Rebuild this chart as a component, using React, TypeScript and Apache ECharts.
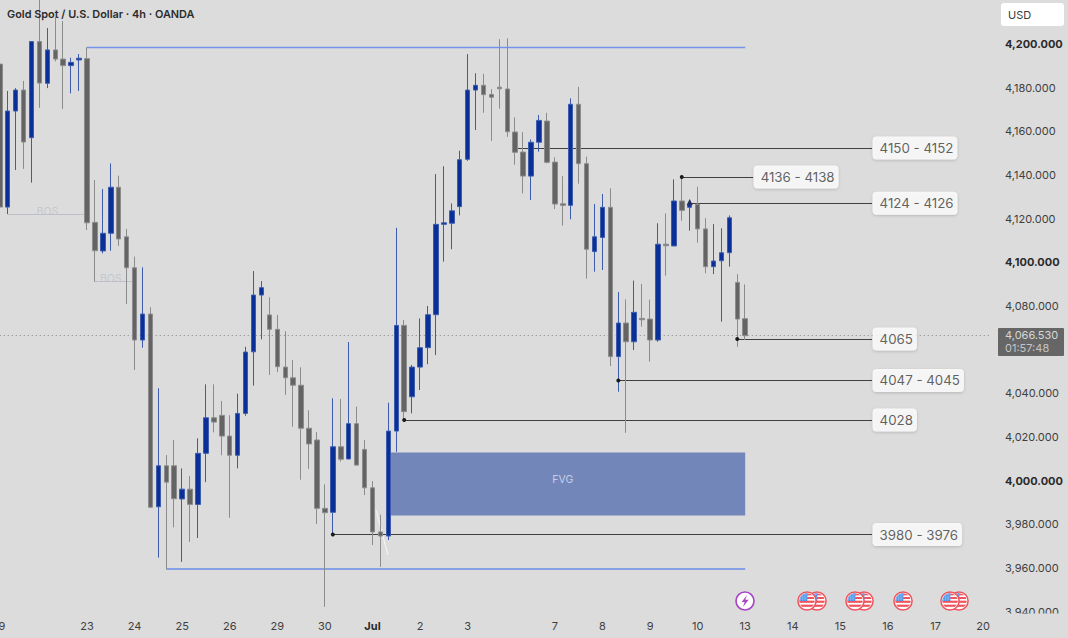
import React, { useEffect, useRef } from "react";
import * as echarts from "echarts";

const BG = "#dcdcdc";
const FONT = "Inter, Roboto, sans-serif";

// Category slots: one per 4h bar, labelled on the first bar of a day
const tickSlots = [0, 11, 17, 23, 29, 35, 41, 47, 53, 59, 70, 76, 82, 88, 94, 100, 106, 112, 118, 124];
const tickNames = ["19", "23", "24", "25", "26", "29", "30", "Jul", "2", "3", "7", "8", "9", "10", "13", "14", "15", "16", "17", "20"];
const slotCount = 126;

const yTicks = [3940, 3960, 3980, 4000, 4020, 4040, 4080, 4100, 4120, 4140, 4160, 4180, 4200];
const yBold = [4000, 4100, 4200];

// open, close, low, high
const bars = [
  [4190.8, 4125.3, 4124.0, 4191.8],
  [4125.3, 4169.3, 4122.1, 4178.5],
  [4169.3, 4178.9, 4142.3, 4179.8],
  [4178.9, 4155.1, 4142.8, 4183.1],
  [4157.1, 4201.1, 4136.5, 4201.1],
  [4201.1, 4182.1, 4170.8, 4225.0],
  [4182.0, 4197.3, 4179.8, 4207.3],
  [4197.3, 4193.1, 4192.0, 4212.4],
  [4193.1, 4190.1, 4170.2, 4210.5],
  [4190.1, 4191.6, 4177.4, 4193.7],
  [4192.7, 4193.5, 4178.5, 4195.4],
  [4193.3, 4118.1, 4114.8, 4198.5],
  [4118.3, 4105.3, 4091.1, 4137.7],
  [4105.2, 4113.3, 4104.1, 4133.6],
  [4113.3, 4134.4, 4105.3, 4145.3],
  [4134.4, 4110.7, 4107.5, 4139.7],
  [4111.7, 4097.5, 4080.9, 4115.3],
  [4097.5, 4064.4, 4050.7, 4102.6],
  [4064.4, 4076.3, 4060.9, 4097.7],
  [4076.3, 3987.8, 3987.5, 4079.4],
  [3988.0, 4006.8, 3964.7, 4042.3],
  [4006.8, 3999.3, 3959.4, 4011.7],
  [4006.8, 3991.7, 3978.6, 4018.6],
  [3991.6, 3996.1, 3962.8, 4005.6],
  [3996.1, 3989.1, 3971.9, 4002.1],
  [3989.1, 4012.5, 3973.7, 4019.4],
  [4012.5, 4028.8, 3999.3, 4044.1],
  [4028.8, 4026.8, 4022.1, 4044.1],
  [4029.9, 4020.4, 4011.6, 4036.5],
  [4020.4, 4011.6, 3983.0, 4029.9],
  [4011.6, 4030.8, 4005.6, 4039.8],
  [4030.8, 4058.9, 4029.7, 4061.3],
  [4059.0, 4085.0, 4043.5, 4096.0],
  [4085.0, 4088.4, 4064.7, 4091.4],
  [4075.9, 4069.3, 4048.4, 4084.0],
  [4069.3, 4052.2, 4049.7, 4075.9],
  [4052.0, 4047.1, 4039.3, 4068.5],
  [4047.1, 4043.7, 4024.7, 4055.2],
  [4043.7, 4024.0, 4000.4, 4051.9],
  [4024.0, 4016.8, 4005.4, 4032.2],
  [4018.6, 3987.3, 3980.1, 4022.3],
  [3987.3, 3985.3, 3942.2, 3998.3],
  [3985.5, 4015.5, 3975.4, 4037.7],
  [4015.5, 4009.8, 4008.7, 4037.4],
  [4009.9, 4026.1, 4009.9, 4063.5],
  [4026.1, 4007.1, 4006.8, 4033.9],
  [4014.3, 3996.7, 3993.4, 4018.6],
  [3996.7, 3976.5, 3970.5, 3999.8],
  [3976.5, 3974.6, 3960.5, 3984.4],
  [3974.6, 4022.7, 3972.8, 4035.7],
  [4022.7, 4071.1, 4013.2, 4115.8],
  [4071.1, 4031.6, 4028.2, 4073.6],
  [4038.4, 4052.0, 4030.8, 4053.0],
  [4052.0, 4060.9, 4041.5, 4074.3],
  [4060.9, 4076.0, 4053.3, 4080.0],
  [4076.0, 4117.4, 4057.5, 4140.4],
  [4117.4, 4118.1, 4100.3, 4144.0],
  [4117.9, 4123.6, 4106.0, 4127.0],
  [4125.5, 4147.0, 4121.5, 4151.1],
  [4147.2, 4178.9, 4146.5, 4195.4],
  [4178.9, 4181.1, 4160.6, 4186.6],
  [4181.1, 4176.8, 4168.5, 4186.3],
  [4176.9, 4175.6, 4155.6, 4179.3],
  [4180.2, 4179.5, 4170.4, 4202.2],
  [4179.4, 4159.8, 4157.5, 4202.6],
  [4159.7, 4150.4, 4144.7, 4166.4],
  [4150.5, 4139.5, 4131.6, 4159.6],
  [4139.5, 4155.0, 4128.5, 4156.3],
  [4155.0, 4165.0, 4150.7, 4167.5],
  [4164.7, 4145.8, 4145.3, 4168.5],
  [4145.9, 4126.7, 4124.4, 4148.1],
  [4126.8, 4126.1, 4116.8, 4139.5],
  [4126.1, 4172.4, 4119.7, 4175.1],
  [4172.4, 4145.2, 4136.0, 4180.4],
  [4145.2, 4106.0, 4092.5, 4148.4],
  [4104.9, 4111.7, 4095.7, 4126.7],
  [4111.4, 4125.2, 4096.5, 4131.3],
  [4125.2, 4056.8, 4052.5, 4133.9],
  [4056.8, 4072.2, 4040.7, 4086.4],
  [4072.2, 4063.6, 4021.9, 4083.0],
  [4063.6, 4077.1, 4059.8, 4091.6],
  [4074.3, 4073.7, 4070.5, 4090.1],
  [4074.0, 4064.4, 4054.5, 4082.9],
  [4064.4, 4108.3, 4063.6, 4117.9],
  [4108.3, 4107.6, 4093.9, 4122.4],
  [4107.5, 4128.1, 4107.5, 4138.0],
  [4128.1, 4123.8, 4119.1, 4139.0],
  [4125.2, 4126.4, 4114.5, 4128.5],
  [4126.6, 4115.3, 4109.0, 4134.6],
  [4115.3, 4098.0, 4095.0, 4120.2],
  [4098.0, 4100.6, 4094.6, 4117.5],
  [4100.7, 4104.4, 4072.8, 4115.6],
  [4104.4, 4120.4, 4098.0, 4121.5],
  [4090.8, 4074.0, 4061.3, 4094.6],
  [4074.2, 4066.4, 4064.4, 4089.9],
];

// from slot, to slot, price, chip text
const levels: [number, number, number, string][] = [
  [65, 110, 4152.4, "4150 - 4152"],
  [86, 95, 4139.1, "4136 - 4138"],
  [87, 110, 4127.0, "4124 - 4126"],
  [93, 110, 4064.9, "4065"],
  [78, 110, 4045.9, "4047 - 4045"],
  [51, 110, 4027.8, "4028"],
  [42, 110, 3975.3, "3980 - 3976"],
];
const dotLevels = ["4136 - 4138", "4065", "4047 - 4045", "4028", "3980 - 3976"];
const triangleLevels = ["4124 - 4126"];
const dotted = 4066.53;
const topLiquidity: [number, number, number] = [11, 94, 4198.5];
const bottomLiquidity: [number, number, number] = [21, 94, 3959.4];
const bosLines: [number, number, number][] = [
  [1, 11, 4122.1],
  [12, 17, 4091.1],
];
const bosLabels: [number, number][] = [
  [6, 4123.5],
  [14, 4092.8],
];
const fvg = { from: 49, to: 94, high: 4012.9, low: 3984.0 };
const fvgLabel: [number, number] = [71, 4000.5];

const svgUri = (s: string) => "data:image/svg+xml;utf8," + encodeURIComponent(s);
const flag = svgUri(
  `<svg xmlns="http://www.w3.org/2000/svg" width="60" height="60" viewBox="0 0 60 60"><defs><clipPath id="c"><circle cx="30" cy="30" r="23"/></clipPath></defs>` +
    `<circle cx="30" cy="30" r="29.5" fill="#f0535c"/><circle cx="30" cy="30" r="25" fill="#fff"/>` +
    `<g clip-path="url(#c)"><rect x="0" y="29" width="60" height="6.5" fill="#f0535c"/><rect x="0" y="41" width="60" height="6.5" fill="#f0535c"/><rect x="0" y="7" width="60" height="6" fill="#f0535c"/><rect x="0" y="18" width="60" height="6" fill="#f0535c"/>` +
    `<rect x="4" y="4" width="27" height="26" fill="#3f8fe8"/><path d="M10 4V30M17 4V30M24 4V30M4 11H31M4 18H31M4 24H31" stroke="#a9cdf5" stroke-width="1.6"/></g></svg>`
);
const bolt = svgUri(
  `<svg xmlns="http://www.w3.org/2000/svg" width="60" height="60" viewBox="0 0 60 60">` +
    `<circle cx="30" cy="30" r="27" fill="#fff" stroke="#a946c4" stroke-width="5"/>` +
    `<path d="M36 12 L20 33 H29 L24 48 L41 26 H31 Z" fill="#a946c4"/></svg>`
);

const flagPositions: [number, number][] = [
  [817, 601], [807, 601], [864, 601], [855, 601], [903, 601], [959, 601], [950, 601],
];

const fmtPrice = (v: number) => v.toLocaleString("en-US", { minimumFractionDigits: 3, maximumFractionDigits: 3 });

export default function App() {
  const ref = useRef<HTMLDivElement>(null);
  useEffect(() => {
    document.body.style.margin = "0";
    document.body.style.background = BG;
    const chart = echarts.init(ref.current!, undefined, { renderer: "svg" });
    const categories = Array.from({ length: slotCount }, (_, i) => {
      const at = tickSlots.indexOf(i);
      return at >= 0 ? tickNames[at] : "";
    });
    const hLine = (s: [number, number, number], color: string, width: number) => [
      { coord: [s[0], s[2]], lineStyle: { color, width, type: "solid" } },
      { coord: [s[1], s[2]] },
    ];
    const chips = levels.map((l) => ({ value: [l[1], l[2]], name: l[3] }));
    const dots = levels.filter((l) => dotLevels.includes(l[3])).map((l) => [l[0], l[2]]);
    const triangles = levels.filter((l) => triangleLevels.includes(l[3])).map((l) => [l[0], l[2] + 0.6]);
    const option: any = {
      animation: false,
      backgroundColor: BG,
      grid: { left: -4.2, width: 999.2, top: 0, height: 613.5, outerBoundsMode: "none", containLabel: false },
      xAxis: {
        type: "category",
        data: categories,
        boundaryGap: true,
        axisLine: { show: false },
        axisTick: { show: false },
        splitLine: { show: false },
        axisLabel: {
          interval: (_i: number, v: string) => v !== "",
          margin: 7,
          color: "#3f3f3f",
          fontFamily: FONT,
          fontSize: 11,
          hideOverlap: false,
          formatter: (v: string) => (v === "Jul" ? "{b|Jul}" : v),
          rich: { b: { fontWeight: 700, color: "#2a2a2a", fontSize: 11, fontFamily: FONT } },
        },
      },
      yAxis: {
        type: "value",
        position: "right",
        min: 3939.13,
        max: 4220.16,
        scale: true,
        axisLine: { show: false },
        axisTick: { show: false },
        splitLine: { show: false },
        axisLabel: {
          customValues: yTicks,
          margin: 10,
          color: "#3f3f3f",
          fontFamily: FONT,
          fontSize: 11,
          formatter: (v: number) => (yBold.includes(v) ? `{b|${fmtPrice(v)}}` : fmtPrice(v)),
          rich: { b: { fontWeight: 700, color: "#2a2a2a", fontSize: 11, fontFamily: FONT } },
        },
      },
      series: [
        {
          type: "line",
          z: 1,
          data: [],
          silent: true,
          markLine: {
            z: 1,
            silent: true,
            symbol: "none",
            label: { show: false },
            animation: false,
            data: [
              [
                { coord: [0, dotted], lineStyle: { color: "#8a8a8a", width: 1, type: [1, 3] } },
                { coord: [slotCount - 1, dotted] },
              ],
              ...levels.map((l) => hLine([l[0], l[1], l[2]], "#3f3f3f", 1)),
              hLine(topLiquidity, "#7393ea", 1.3),
              hLine(bottomLiquidity, "#86a0e6", 2),
              ...bosLines.map((b) => hLine(b, "#bcbfc7", 1)),
            ],
          },
        },
        {
          type: "candlestick",
          z: 2,
          data: bars,
          barWidth: 5,
          itemStyle: {
            color: "#0a2f96",
            borderColor: "#3d5cae",
            color0: "#646464",
            borderColor0: "#8c8c8c",
            borderWidth: 1,
          },
          markArea: {
            z: 1,
            silent: true,
            itemStyle: { color: "#7286ba" },
            data: [[{ coord: [fvg.from, fvg.high] }, { coord: [fvg.to, fvg.low] }]],
          },
        },
        {
          type: "scatter",
          z: 3,
          symbol: "circle",
          symbolSize: 4,
          itemStyle: { color: "#1a1a1a", opacity: 1 },
          data: dots,
          silent: true,
        },
        {
          type: "scatter",
          z: 3,
          symbol: "triangle",
          symbolSize: 6,
          itemStyle: { color: "#1f2f5f", opacity: 1 },
          data: triangles,
          silent: true,
        },
        {
          type: "scatter",
          z: 6,
          symbolSize: 1,
          itemStyle: { color: "transparent" },
          silent: true,
          data: chips,
          label: {
            show: true,
            position: "right",
            distance: 0,
            formatter: (p: any) => p.name,
            color: "#3a3a3a",
            fontFamily: FONT,
            fontSize: 13.3,
            backgroundColor: "#ffffff",
            borderRadius: 4,
            padding: [5, 4, 5, 7],
            shadowColor: "rgba(0,0,0,0.22)",
            shadowBlur: 3,
            shadowOffsetY: 1,
          },
        },
        {
          type: "scatter",
          z: 3,
          symbolSize: 1,
          itemStyle: { color: "transparent" },
          silent: true,
          data: bosLabels,
          label: {
            show: true,
            position: "inside",
            formatter: "BOS",
            color: "#bfc2ca",
            fontFamily: FONT,
            fontSize: 10.5,
          },
        },
        {
          type: "scatter",
          z: 3,
          symbolSize: 1,
          itemStyle: { color: "transparent" },
          silent: true,
          data: [fvgLabel],
          label: {
            show: true,
            position: "inside",
            formatter: "FVG",
            color: "#dde3f3",
            fontFamily: FONT,
            fontSize: 10.5,
          },
        },
      ],
      graphic: [
        { type: "rect", z: 100, shape: { x: 995, y: 613.5, width: 73, height: 25 }, style: { fill: BG } },
        { type: "line", z: 1, shape: { x1: 376, y1: 510, x2: 388, y2: 555 }, style: { stroke: "#f2f2f2", lineWidth: 1.2 } },
        {
          type: "text",
          z: 100,
          x: 7,
          y: 8,
          style: { text: "Gold Spot / U.S. Dollar · 4h · OANDA", fill: "#2b2b2b", font: `600 10.9px ${FONT}` },
        },
        { type: "rect", z: 100, shape: { x: 1001, y: 3, width: 63, height: 23, r: 3 }, style: { fill: "#ffffff" } },
        {
          type: "text",
          z: 101,
          x: 1008,
          y: 9,
          style: { text: "USD", fill: "#3a3a3a", font: `400 11px ${FONT}` },
        },
        { type: "rect", z: 100, shape: { x: 998, y: 328, width: 66, height: 28, r: 1 }, style: { fill: "#666666" } },
        {
          type: "text",
          z: 101,
          x: 1005,
          y: 335,
          style: { text: fmtPrice(dotted), fill: "#d6d6d6", font: `400 11px ${FONT}`, verticalAlign: "middle" },
        },
        {
          type: "text",
          z: 101,
          x: 1005,
          y: 347.5,
          style: { text: "01:57:48", fill: "#c4c4c4", font: `400 11px ${FONT}`, verticalAlign: "middle" },
        },
        { type: "image", z: 50, style: { image: bolt, x: 735, y: 591, width: 20, height: 20 } },
        ...flagPositions.map((p) => ({
          type: "image",
          z: 50,
          style: { image: flag, x: p[0] - 10, y: p[1] - 10, width: 20, height: 20 },
        })),
      ],
    };
    chart.setOption(option);
    return () => chart.dispose();
  }, []);
  return <div ref={ref} style={{ width: 1068, height: 638 }} />;
}
